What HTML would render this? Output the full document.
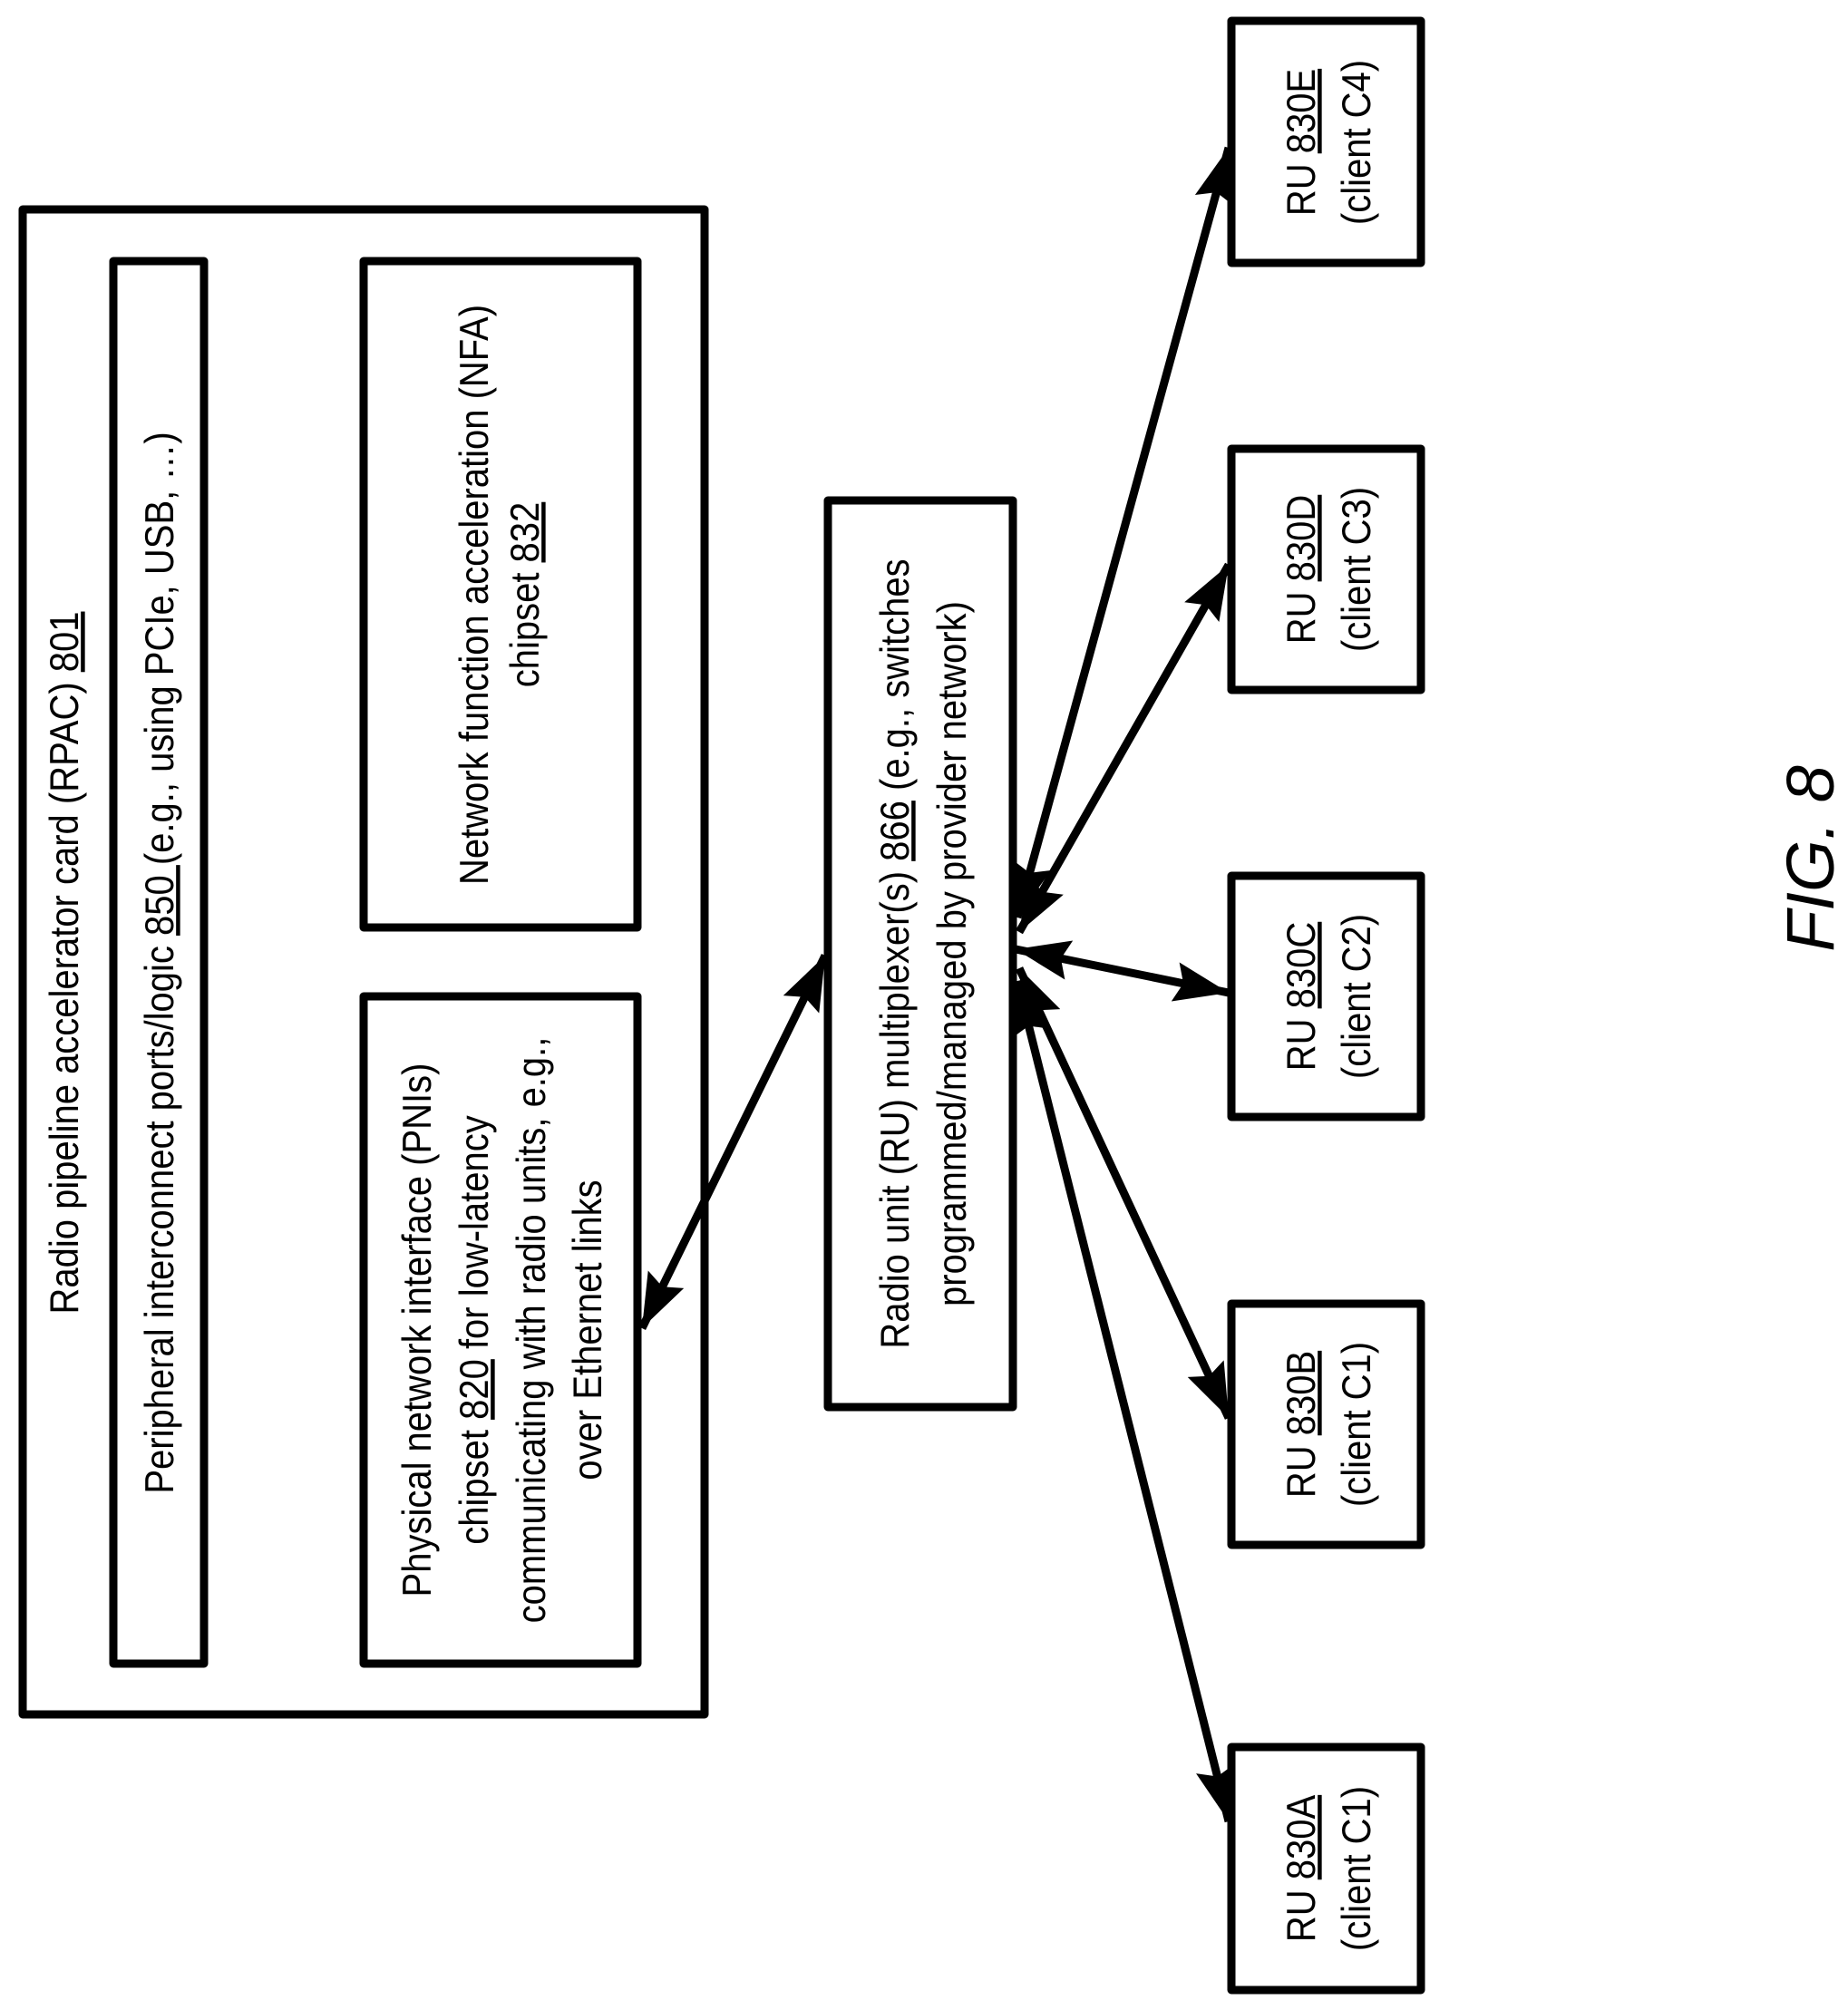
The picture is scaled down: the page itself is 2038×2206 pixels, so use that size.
<!DOCTYPE html>
<html><head><meta charset="utf-8"><style>
html,body{margin:0;padding:0;background:#fff;}
svg{display:block;}
text{font-family:"Liberation Sans",Arial,sans-serif;fill:#000;}
</style></head><body>
<svg width="2038" height="2206" viewBox="0 0 2038 2206" xmlns="http://www.w3.org/2000/svg">
<defs>
<marker id="ah" markerUnits="userSpaceOnUse" markerWidth="64" markerHeight="48" refX="60" refY="22" orient="auto-start-reverse" viewBox="0 0 64 44">
<path d="M0,0 L60,22 L0,44 L9,22 Z" fill="#000"/>
</marker>
</defs>
<g fill="none" stroke="#000" stroke-width="9" stroke-linejoin="round">
<rect x="25" y="231" width="752" height="1660"/>
<rect x="125" y="288" width="100" height="1547"/>
<rect x="401" y="288" width="302" height="735"/>
<rect x="401" y="1099" width="302" height="736"/>
<rect x="913" y="552" width="204" height="1000"/>
<rect x="1358" y="23" width="209" height="267"/>
<rect x="1358" y="495" width="209" height="266"/>
<rect x="1358" y="966" width="209" height="266"/>
<rect x="1358" y="1438" width="209" height="266"/>
<rect x="1358" y="1927" width="209" height="268"/>
</g>
<g stroke="#000" stroke-width="9" marker-start="url(#ah)" marker-end="url(#ah)">
<line x1="708" y1="1465" x2="910" y2="1054"/>
<line x1="1122" y1="1012" x2="1355" y2="163"/>
<line x1="1124" y1="1028" x2="1355" y2="623"/>
<line x1="1120" y1="1047" x2="1355" y2="1095"/>
<line x1="1124" y1="1068" x2="1355" y2="1564"/>
<line x1="1122" y1="1082" x2="1355" y2="2009"/>
</g>
<g font-size="40" text-anchor="middle">
<text transform="translate(86,1062) rotate(-90) scale(1,1.12)">Radio pipeline accelerator card  (RPAC) <tspan text-decoration="underline">801</tspan></text>
<text transform="translate(191,1062) rotate(-90) scale(1,1.12)">Peripheral interconnect ports/logic <tspan text-decoration="underline">850 </tspan>(e.g., using PCIe, USB, …)</text>
<text transform="translate(538,656) rotate(-90) scale(1,1.12)">Network function acceleration (NFA)</text>
<text transform="translate(594,656) rotate(-90) scale(1,1.12)">chipset <tspan text-decoration="underline">832</tspan></text>
<text transform="translate(475,1467) rotate(-90) scale(1,1.12)">Physical network interface (PNIs)</text>
<text transform="translate(538,1467) rotate(-90) scale(1,1.12)">chipset <tspan text-decoration="underline">820</tspan> for low-latency</text>
<text transform="translate(601,1467) rotate(-90) scale(1,1.12)">communicating with radio units, e.g.,</text>
<text transform="translate(663,1467) rotate(-90) scale(1,1.12)">over Ethernet links</text>
<text transform="translate(1002,1052) rotate(-90) scale(1,1.12)">Radio unit (RU) multiplexer(s) <tspan text-decoration="underline">866</tspan> (e.g., switches</text>
<text transform="translate(1065,1052) rotate(-90) scale(1,1.12)">programmed/managed by provider network)</text>
<text transform="translate(1450,157) rotate(-90) scale(1,1.12)">RU <tspan text-decoration="underline">830E</tspan></text>
<text transform="translate(1511,157) rotate(-90) scale(1,1.12)">(client C4)</text>
<text transform="translate(1450,628) rotate(-90) scale(1,1.12)">RU <tspan text-decoration="underline">830D</tspan></text>
<text transform="translate(1511,628) rotate(-90) scale(1,1.12)">(client C3)</text>
<text transform="translate(1450,1099) rotate(-90) scale(1,1.12)">RU <tspan text-decoration="underline">830C</tspan></text>
<text transform="translate(1511,1099) rotate(-90) scale(1,1.12)">(client C2)</text>
<text transform="translate(1450,1571) rotate(-90) scale(1,1.12)">RU <tspan text-decoration="underline">830B</tspan></text>
<text transform="translate(1511,1571) rotate(-90) scale(1,1.12)">(client C1)</text>
<text transform="translate(1450,2061) rotate(-90) scale(1,1.12)">RU <tspan text-decoration="underline">830A</tspan></text>
<text transform="translate(1511,2061) rotate(-90) scale(1,1.12)">(client C1)</text>
</g>
<text transform="translate(2022,947) rotate(-90)" font-size="74" font-style="italic" text-anchor="middle">FIG. 8</text>
</svg>
</body></html>
